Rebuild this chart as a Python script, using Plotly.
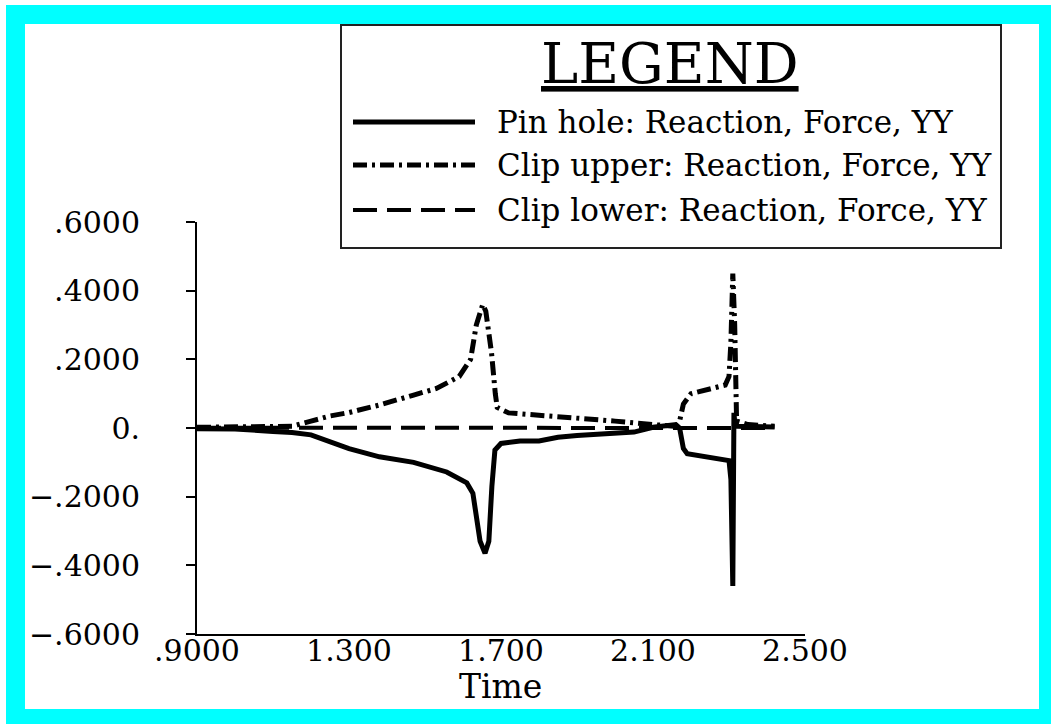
import plotly.graph_objects as go

# ---------------- data ----------------
series_names = ["Pin hole: Reaction, Force, YY",
                "Clip upper: Reaction, Force, YY",
                "Clip lower: Reaction, Force, YY"]

pin_t = [0.90, 1.00, 1.10, 1.15, 1.20, 1.25, 1.30, 1.38, 1.47, 1.557, 1.61, 1.626,
         1.635, 1.645, 1.658, 1.668, 1.676, 1.684, 1.70, 1.75, 1.80, 1.85, 1.90,
         2.00, 2.05, 2.10, 2.16, 2.17, 2.18, 2.19, 2.25, 2.30, 2.305, 2.31, 2.313,
         2.316, 2.32, 2.35, 2.42]
pin_v = [-0.002, -0.003, -0.010, -0.013, -0.020, -0.040, -0.060, -0.084, -0.100,
         -0.128, -0.160, -0.190, -0.250, -0.330, -0.365, -0.330, -0.170, -0.064,
         -0.045, -0.038, -0.038, -0.027, -0.022, -0.015, -0.012, 0.002, 0.010,
         0.000, -0.060, -0.075, -0.085, -0.095, -0.150, -0.460, 0.044, 0.005,
         0.005, 0.004, 0.003]

up_t = [0.90, 1.00, 1.10, 1.15, 1.20, 1.25, 1.30, 1.38, 1.47, 1.53, 1.59, 1.62,
        1.635, 1.652, 1.66, 1.675, 1.685, 1.69, 1.72, 1.80, 1.90, 2.00, 2.10,
        2.16, 2.17, 2.18, 2.20, 2.25, 2.29, 2.30, 2.305, 2.31, 2.315, 2.32, 2.35,
        2.42]
up_v = [0.002, 0.002, 0.003, 0.005, 0.020, 0.035, 0.045, 0.067, 0.096, 0.115,
        0.150, 0.200, 0.300, 0.360, 0.340, 0.220, 0.100, 0.060, 0.044, 0.038,
        0.030, 0.020, 0.010, 0.005, 0.020, 0.070, 0.100, 0.113, 0.125, 0.150,
        0.250, 0.450, 0.300, 0.020, 0.010, 0.005]

low_t = [0.90, 1.20, 1.60, 2.00, 2.30, 2.41]
low_v = [0.001, 0.001, 0.000, 0.000, 0.000, 0.000]

x_ticks = [0.9, 1.3, 1.7, 2.1, 2.5]
x_ticktext = [".9000", "1.300", "1.700", "2.100", "2.500"]
y_ticks = [0.6, 0.4, 0.2, 0.0, -0.2, -0.4, -0.6]
y_ticktext = [".6000", ".4000", ".2000", "0.", "\u2212.2000", "\u2212.4000", "\u2212.6000"]

# ---------------- layout geometry (pixels) ----------------
W, H = 1051, 724
ML, MR, MT, MB = 197, 246, 222, 90
PW, PH = W - ML - MR, H - MT - MB

def px(x):
    return (x - ML) / PW

def py(y):
    return (H - MB - y) / PH

FONT = "DejaVu Serif"
styles = [dict(dash="solid", width=5),
          dict(dash="14px,5px,3px,5px", width=5),
          dict(dash="24px,10px", width=4)]

fig = go.Figure()
for t, v, name, st in zip([pin_t, up_t, low_t], [pin_v, up_v, low_v], series_names, styles):
    fig.add_trace(go.Scatter(x=t, y=v, mode="lines", name=name,
                             line=dict(color="black", **st), showlegend=False,
                             hoverinfo="skip"))

shapes = [
    # cyan frame
    dict(type="rect", xref="paper", yref="paper", x0=px(6), x1=px(W + 5), y0=py(H + 5), y1=py(5),
         fillcolor="#00ffff", line=dict(width=0), layer="below"),
    dict(type="rect", xref="paper", yref="paper", x0=px(25), x1=px(1039), y0=py(709), y1=py(24),
         fillcolor="white", line=dict(width=0), layer="below"),
    # legend box
    dict(type="rect", xref="paper", yref="paper", x0=px(341), x1=px(1001), y0=py(248), y1=py(25),
         fillcolor="white", line=dict(color="#222", width=2)),
]
row_y = [122, 165, 210]
for yy, st in zip(row_y, styles):
    shapes.append(dict(type="line", xref="paper", yref="paper", x0=px(353), x1=px(475),
                       y0=py(yy), y1=py(yy), line=dict(color="black", **st)))

annotations = [
    dict(text="<u>LEGEND</u>", xref="paper", yref="paper", x=px(670), y=py(64),
         xanchor="center", yanchor="middle", showarrow=False,
         font=dict(family=FONT, size=56, color="black")),
    dict(text="Time", xref="paper", yref="paper", x=px(500), y=py(686),
         xanchor="center", yanchor="middle", showarrow=False,
         font=dict(family=FONT, size=33, color="black")),
]
for yy, name in zip(row_y, series_names):
    annotations.append(dict(text=name, xref="paper", yref="paper", x=px(495), y=py(yy),
                            xanchor="left", yanchor="middle", showarrow=False,
                            font=dict(family=FONT, size=31, color="black")))

fig.update_layout(
    width=W, height=H,
    margin=dict(l=ML, r=MR, t=MT, b=MB),
    paper_bgcolor="white", plot_bgcolor="white",
    shapes=shapes, annotations=annotations,
    font=dict(family=FONT, size=30, color="black"),
    xaxis=dict(range=[0.9, 2.5], tickvals=x_ticks, ticktext=x_ticktext,
               showgrid=False, zeroline=False, showline=True, linecolor="black",
               linewidth=2, ticks="", ticklabelstandoff=-11,
               tickfont=dict(family=FONT, size=30)),
    yaxis=dict(range=[-0.6, 0.6], tickvals=y_ticks, ticktext=y_ticktext,
               showgrid=False, zeroline=False, showline=True, linecolor="black",
               linewidth=2, ticks="outside", ticklen=9, tickwidth=2, tickcolor="black",
               ticklabelstandoff=40,
               tickfont=dict(family=FONT, size=30)),
)

fig.write_html("out.html", config={"displayModeBar": False},
               post_script="document.body.style.margin='0';")
